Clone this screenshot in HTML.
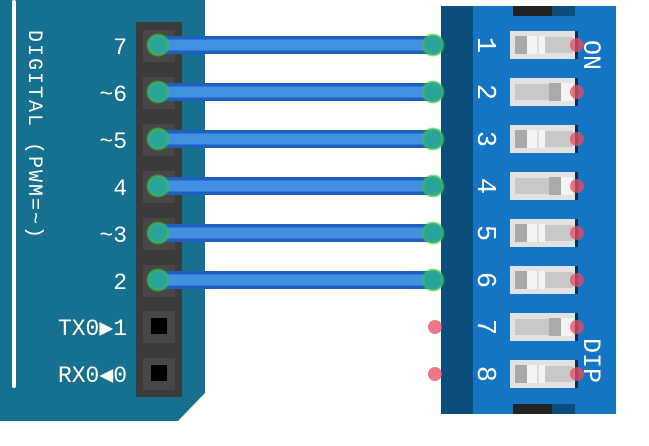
<!DOCTYPE html>
<html><head><style>body{margin:0;background:#fff}svg{display:block}</style></head><body>
<svg width="649" height="446" xmlns="http://www.w3.org/2000/svg" font-family="Liberation Mono, DejaVu Sans Mono, monospace">
<path d="M0 0H205V393L178 421H0Z" fill="#16708f"/>
<rect x="12" y="0" width="4" height="388" rx="2" fill="#fff"/>
<text transform="translate(29,30) rotate(90)" fill="#fff" font-size="20" letter-spacing="2">DIGITAL (PWM=~)</text>
<g fill="#fff" font-size="23" text-anchor="end">
<text x="127" y="54">7</text><text x="127" y="101">~6</text><text x="127" y="148">~5</text><text x="127" y="195">4</text><text x="127" y="242">~3</text><text x="127" y="289">2</text><text x="127" y="335">TX0▶1</text><text x="127" y="382">RX0◀0</text>
</g>
<rect x="136" y="22" width="46" height="375" fill="#3b3b3b"/>
<g fill="#474747"><rect x="143" y="30" width="32" height="32"/><rect x="143" y="77" width="32" height="32"/><rect x="143" y="124" width="32" height="32"/><rect x="143" y="171" width="32" height="32"/><rect x="143" y="218" width="32" height="32"/><rect x="143" y="265" width="32" height="32"/><rect x="143" y="311" width="32" height="32"/><rect x="143" y="358" width="32" height="32"/></g>
<rect x="151" y="318" width="16" height="16" fill="#000"/><rect x="151" y="365" width="16" height="16" fill="#000"/>
<path d="M441 6H616V414H441Z" fill="#1475c4"/>
<rect x="441" y="6" width="32" height="408" fill="#0b4e7c"/>
<rect x="513" y="6" width="62" height="10" fill="#222"/><rect x="552" y="6" width="23" height="10" fill="#0b4e7c"/>
<rect x="513" y="404" width="62" height="10" fill="#222"/><rect x="552" y="404" width="23" height="10" fill="#0b4e7c"/>
<g font-size="25" fill="#fff">
<text transform="translate(584,40) rotate(90)">ON</text>
<text transform="translate(584,338) rotate(90)">DIP</text>
</g>
<g font-size="27" fill="#fff" text-anchor="middle">
<text transform="translate(487,45) rotate(90)" dy="9">1</text>
<text transform="translate(487,92) rotate(90)" dy="9">2</text>
<text transform="translate(487,139) rotate(90)" dy="9">3</text>
<text transform="translate(487,186) rotate(90)" dy="9">4</text>
<text transform="translate(487,233) rotate(90)" dy="9">5</text>
<text transform="translate(487,280) rotate(90)" dy="9">6</text>
<text transform="translate(487,327) rotate(90)" dy="9">7</text>
<text transform="translate(487,374) rotate(90)" dy="9">8</text>
</g>
<defs>
<g id="sw"><rect x="510" y="-14" width="67" height="28" fill="#e2e2e2"/><rect x="575" y="-14" width="3" height="28" fill="#0a2e50"/><rect x="515" y="-8" width="58" height="16" fill="#c8c8c8"/></g>
<g id="off"><rect x="515" y="-9" width="12" height="18" fill="#a9a9a9"/><rect x="527" y="-9" width="18" height="18" fill="#f4f4f4"/><rect x="537" y="-9" width="2" height="18" fill="#ddd"/></g>
<g id="on"><rect x="549" y="-9" width="12" height="18" fill="#a9a9a9"/><rect x="561" y="-9" width="12" height="18" fill="#f4f4f4"/></g>
</defs>
<g transform="translate(0,45)"><use href="#sw"/><use href="#off"/></g>
<g transform="translate(0,92)"><use href="#sw"/><use href="#on"/></g>
<g transform="translate(0,139)"><use href="#sw"/><use href="#off"/></g>
<g transform="translate(0,186)"><use href="#sw"/><use href="#on"/></g>
<g transform="translate(0,233)"><use href="#sw"/><use href="#off"/></g>
<g transform="translate(0,280)"><use href="#sw"/><use href="#off"/></g>
<g transform="translate(0,327)"><use href="#sw"/><use href="#on"/></g>
<g transform="translate(0,374)"><use href="#sw"/><use href="#off"/></g>
<g fill="#e84a5f" fill-opacity="0.75">
<circle cx="577" cy="45" r="7"/><circle cx="577" cy="92" r="7"/><circle cx="577" cy="139" r="7"/><circle cx="577" cy="186" r="7"/><circle cx="577" cy="233" r="7"/><circle cx="577" cy="280" r="7"/><circle cx="577" cy="327" r="7"/><circle cx="577" cy="374" r="7"/>
<circle cx="435" cy="327" r="7"/><circle cx="435" cy="374" r="7"/>
</g>
<g stroke-linecap="butt">
<g stroke="#1f5fbf" stroke-width="18"><line x1="158" y1="45" x2="433" y2="45"/><line x1="158" y1="92" x2="433" y2="92"/><line x1="158" y1="139" x2="433" y2="139"/><line x1="158" y1="186" x2="433" y2="186"/><line x1="158" y1="233" x2="433" y2="233"/><line x1="158" y1="280" x2="433" y2="280"/></g>
<g stroke="#4190e2" stroke-width="11"><line x1="158" y1="45" x2="433" y2="45"/><line x1="158" y1="92" x2="433" y2="92"/><line x1="158" y1="139" x2="433" y2="139"/><line x1="158" y1="186" x2="433" y2="186"/><line x1="158" y1="233" x2="433" y2="233"/><line x1="158" y1="280" x2="433" y2="280"/></g>
</g>
<g fill="#2aa39a" stroke="#3ec24a" stroke-width="3" stroke-opacity="0.6">
<circle cx="158" cy="45" r="10"/><circle cx="158" cy="92" r="10"/><circle cx="158" cy="139" r="10"/><circle cx="158" cy="186" r="10"/><circle cx="158" cy="233" r="10"/><circle cx="158" cy="280" r="10"/>
<circle cx="433" cy="45" r="10"/><circle cx="433" cy="92" r="10"/><circle cx="433" cy="139" r="10"/><circle cx="433" cy="186" r="10"/><circle cx="433" cy="233" r="10"/><circle cx="433" cy="280" r="10"/>
</g>
</svg>
</body></html>
